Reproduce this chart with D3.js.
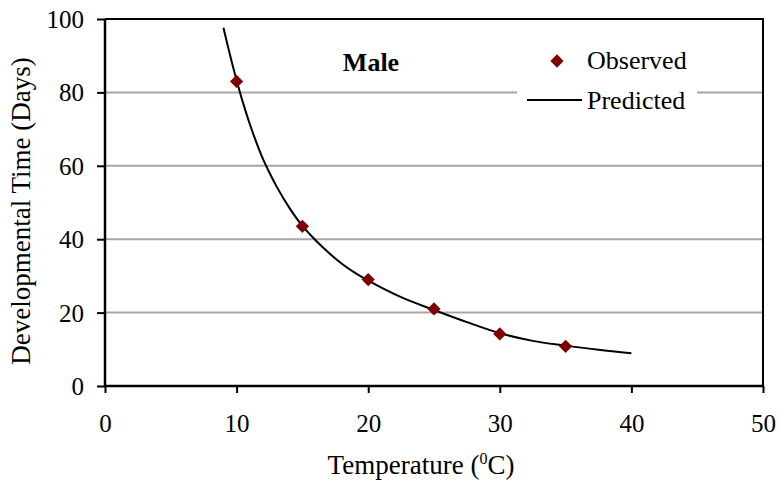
<!DOCTYPE html>
<html><head><meta charset="utf-8">
<script src="https://cdn.jsdelivr.net/npm/d3@7"></script>
<style>body{margin:0;background:#fff}svg{display:block}text{font-family:"Liberation Serif","Times New Roman",serif;fill:#000}</style>
</head><body>
<script>
const obsTemp = [10, 15, 20, 25, 30, 35];
const obsDays = [83, 43.5, 29, 21, 14.2, 10.8];
const predTemp = [9, 9.5, 10, 10.5, 11, 11.5, 12, 12.5, 13, 14, 15, 16, 17, 18, 19, 20, 22.5, 25, 27.5, 30, 32.5, 35, 37.5, 40];
const predDays = [97.6, 90.2, 83.3, 77, 71.4, 66.4, 61.9, 58.1, 54.6, 48.6, 43.6, 39.7, 36.3, 33.3, 30.8, 28.7, 24.2, 20.7, 17.4, 14.4, 12.3, 11.0, 9.85, 8.9];
const xTicks = [0, 10, 20, 30, 40, 50];
const yTicks = [0, 20, 40, 60, 80, 100];
const panelLabel = "Male";
const legendLabels = ["Observed", "Predicted"];

const W = 780, H = 486;
const L = 105, R = 763, T = 19, B = 386;
const FONT = '"Liberation Serif","Times New Roman",serif';
const svg = d3.select("body").append("svg").attr("width", W).attr("height", H);
const x = d3.scaleLinear().domain([0, 50]).range([L, R]);
const y = d3.scaleLinear().domain([0, 100]).range([B, T]);

// gridlines
svg.append("g").selectAll("line").data(yTicks.filter(d => d > 0 && d < 100)).join("line")
  .attr("x1", L).attr("x2", R).attr("y1", d => y(d)).attr("y2", d => y(d))
  .attr("stroke", "#a6a6a6").attr("stroke-width", 2);

// border (top/right)
svg.append("path").attr("d", `M${L},${T}H${R}V${B}`).attr("fill", "none").attr("stroke", "#000").attr("stroke-width", 2);

// axes
const yAxis = svg.append("g").attr("transform", `translate(${L},0)`)
  .call(d3.axisLeft(y).tickValues(yTicks).tickSize(8).tickPadding(13).tickFormat(d3.format("d")));
const xAxis = svg.append("g").attr("transform", `translate(0,${B})`)
  .call(d3.axisBottom(x).tickValues(xTicks).tickSize(7).tickPadding(21).tickFormat(d3.format("d")));
[yAxis, xAxis].forEach(g => {
  g.attr("font-family", null).attr("font-size", null);
  g.select(".domain").attr("stroke", "#000").attr("stroke-width", 2.5);
  g.selectAll(".tick line").attr("stroke", "#000").attr("stroke-width", 2);
  g.selectAll(".tick text").style("font-family", FONT).style("font-size", "25px").attr("fill", "#000");
});
yAxis.select(".domain").attr("d", `M0,${T}V${B}`);
xAxis.select(".domain").attr("d", `M${L},0H${R}`);
yAxis.selectAll(".tick text").attr("dy", "0.34em");
xAxis.selectAll(".tick text").attr("dy", "0.71em");

// legend background
svg.append("rect").attr("x", 517).attr("y", 42).attr("width", 180).attr("height", 78).attr("fill", "#fff");

// predicted curve
const line = d3.line().x(d => x(d[0])).y(d => y(d[1])).curve(d3.curveCatmullRom);
svg.append("path").datum(predTemp.map((t, i) => [t, predDays[i]]))
  .attr("d", line).attr("fill", "none").attr("stroke", "#000").attr("stroke-width", 2);

// observed diamonds
const diamond = d3.symbol().type(d3.symbolSquare).size(88);
svg.append("g").selectAll("path").data(obsTemp.map((t, i) => [t, obsDays[i]])).join("path")
  .attr("d", diamond).attr("fill", "#7f0000")
  .attr("transform", d => `translate(${x(d[0])},${y(d[1])}) rotate(45)`);

// panel label
svg.append("text").attr("x", 371).attr("y", 71).attr("text-anchor", "middle")
  .attr("font-size", 26).attr("font-weight", "bold").text(panelLabel);

// legend
svg.append("path").attr("d", diamond).attr("fill", "#7f0000").attr("transform", "translate(557,61) rotate(45)");
svg.append("text").attr("x", 587).attr("y", 69).attr("font-size", 26).text(legendLabels[0]);
svg.append("line").attr("x1", 527).attr("x2", 582).attr("y1", 100).attr("y2", 100).attr("stroke", "#000").attr("stroke-width", 2);
svg.append("text").attr("x", 587).attr("y", 109).attr("font-size", 26).text(legendLabels[1]);

// axis titles
const xt = svg.append("text").attr("x", 421).attr("y", 474).attr("text-anchor", "middle").attr("font-size", 27);
xt.append("tspan").text("Temperature (");
xt.append("tspan").attr("font-size", 16).attr("dy", -10).text("0");
xt.append("tspan").attr("dy", 10).text("C)");
svg.append("text").attr("transform", "translate(30,211) rotate(-90)").attr("text-anchor", "middle")
  .attr("font-size", 27).text("Developmental Time (Days)");
</script>
</body></html>
